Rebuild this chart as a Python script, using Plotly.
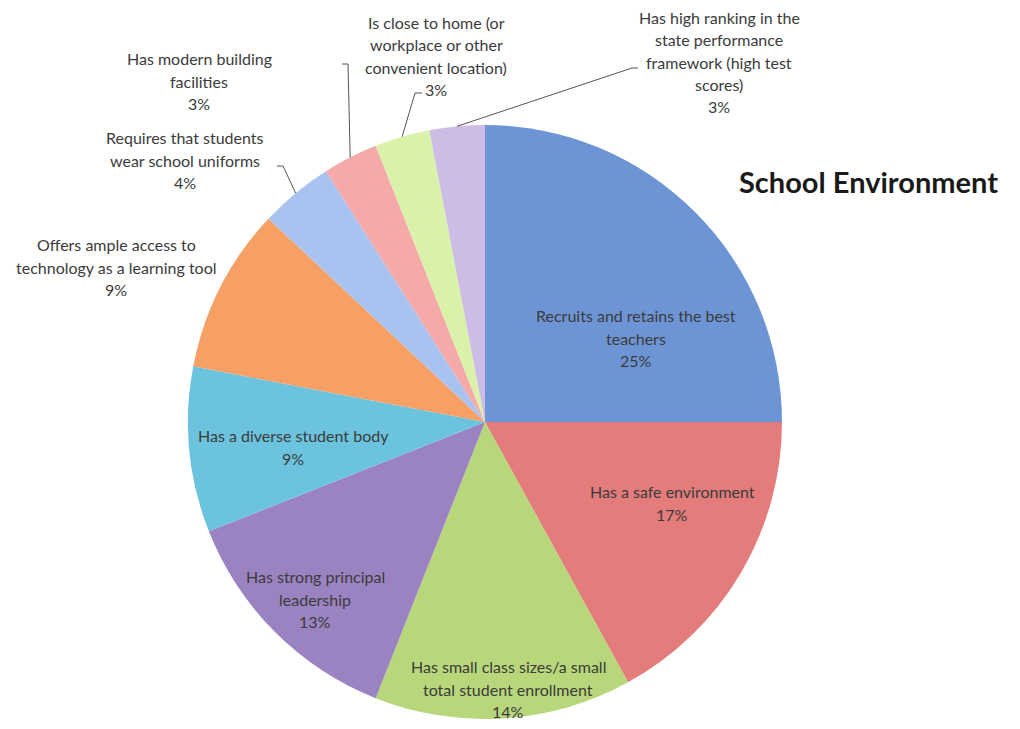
import math
import plotly.graph_objects as go

# Survey shares for "School Environment" (percent), clockwise from 12 o'clock
categories = [
    "Recruits and retains the best teachers",
    "Has a safe environment",
    "Has small class sizes/a small total student enrollment",
    "Has strong principal leadership",
    "Has a diverse student body",
    "Offers ample access to technology as a learning tool",
    "Requires that students wear school uniforms",
    "Has modern building facilities",
    "Is close to home (or workplace or other convenient location)",
    "Has high ranking in the state performance framework (high test scores)",
]
shares = [25, 17, 14, 13, 9, 9, 4, 3, 3, 3]

# Wrapped display lines for each category
label_lines = [
    ["Recruits and retains the best", "teachers"],
    ["Has a safe environment"],
    ["Has small class sizes/a small", "total student enrollment"],
    ["Has strong principal", "leadership"],
    ["Has a diverse student body"],
    ["Offers ample access to", "technology as a learning tool"],
    ["Requires that students", "wear school uniforms"],
    ["Has modern building", "facilities"],
    ["Is close to home (or", "workplace or other", "convenient location)"],
    ["Has high ranking in the", "state performance", "framework (high test", "scores)"],
]

colors = [
    "#6d95d6", "#e37c7b", "#b7d77a", "#9b83c1", "#6cc3de",
    "#f7a066", "#a9c3f0", "#f5a9a9", "#d9f1a8", "#cdbde6",
]

W, H = 1020, 729
CX, CY, R = 485, 422, 297

# label block centres (pixel space)
label_pos = [
    (636, 338), (672, 503), (508, 689), (315, 599), (293, 447),
    (116, 267), (185, 160), (199, 81), (436, 56), (719, 62),
]
# leader line bend point and short horizontal end, for outside labels
leaders = {
    6: ((283, 166), (277, 166)),
    7: ((348, 64), (342, 64)),
    8: ((415, 93), (422, 93)),
    9: ((632, 68), (638, 68)),
}

fig = go.Figure()
fig.add_trace(go.Pie(
    labels=categories,
    values=shares,
    sort=False,
    direction="clockwise",
    rotation=0,
    marker=dict(colors=colors, line=dict(width=0)),
    textinfo="none",
    hoverinfo="label+percent",
    showlegend=False,
    domain=dict(x=[(CX - R) / W, (CX + R) / W],
                y=[(H - CY - R) / H, (H - CY + R) / H]),
))

total = sum(shares)
LINE_H = 22.3
FONT = "Lato, 'Open Sans', sans-serif"
annotations = []
shapes = []
cum = 0.0
for i, (cat, v) in enumerate(zip(categories, shares)):
    mid = (cum + v / 2) / total * 2 * math.pi
    cum += v
    lines = label_lines[i] + [f"{round(v / total * 100)}%"]
    x0, yc = label_pos[i]
    top = yc - LINE_H * (len(lines) - 1) / 2
    for k, ln in enumerate(lines):
        annotations.append(dict(
            x=x0, y=top + k * LINE_H, xref="x", yref="y", text=ln,
            showarrow=False, xanchor="center", yanchor="middle",
            font=dict(family=FONT, size=16, color="#3b3b3b"),
        ))
    if i in leaders:
        ex = CX + R * math.sin(mid)
        ey = CY - R * math.cos(mid)
        (bx, by), (tx, ty) = leaders[i]
        shapes.append(dict(
            type="path", xref="x", yref="y",
            path=f"M {ex:.1f} {ey:.1f} L {bx} {by} L {tx} {ty}",
            line=dict(color="#555555", width=1),
        ))

annotations.append(dict(
    x=868, y=181, xref="x", yref="y", text="<b>School Environment</b>",
    showarrow=False, xanchor="center", yanchor="middle",
    font=dict(family=FONT, size=29, color="#1a1a1a"),
))

fig.update_layout(
    width=W, height=H,
    margin=dict(l=0, r=0, t=0, b=0),
    paper_bgcolor="white", plot_bgcolor="rgba(0,0,0,0)",
    xaxis=dict(range=[0, W], visible=False, fixedrange=True),
    yaxis=dict(range=[H, 0], visible=False, fixedrange=True),
    annotations=annotations,
    shapes=shapes,
)

fig.write_html("out.html")
